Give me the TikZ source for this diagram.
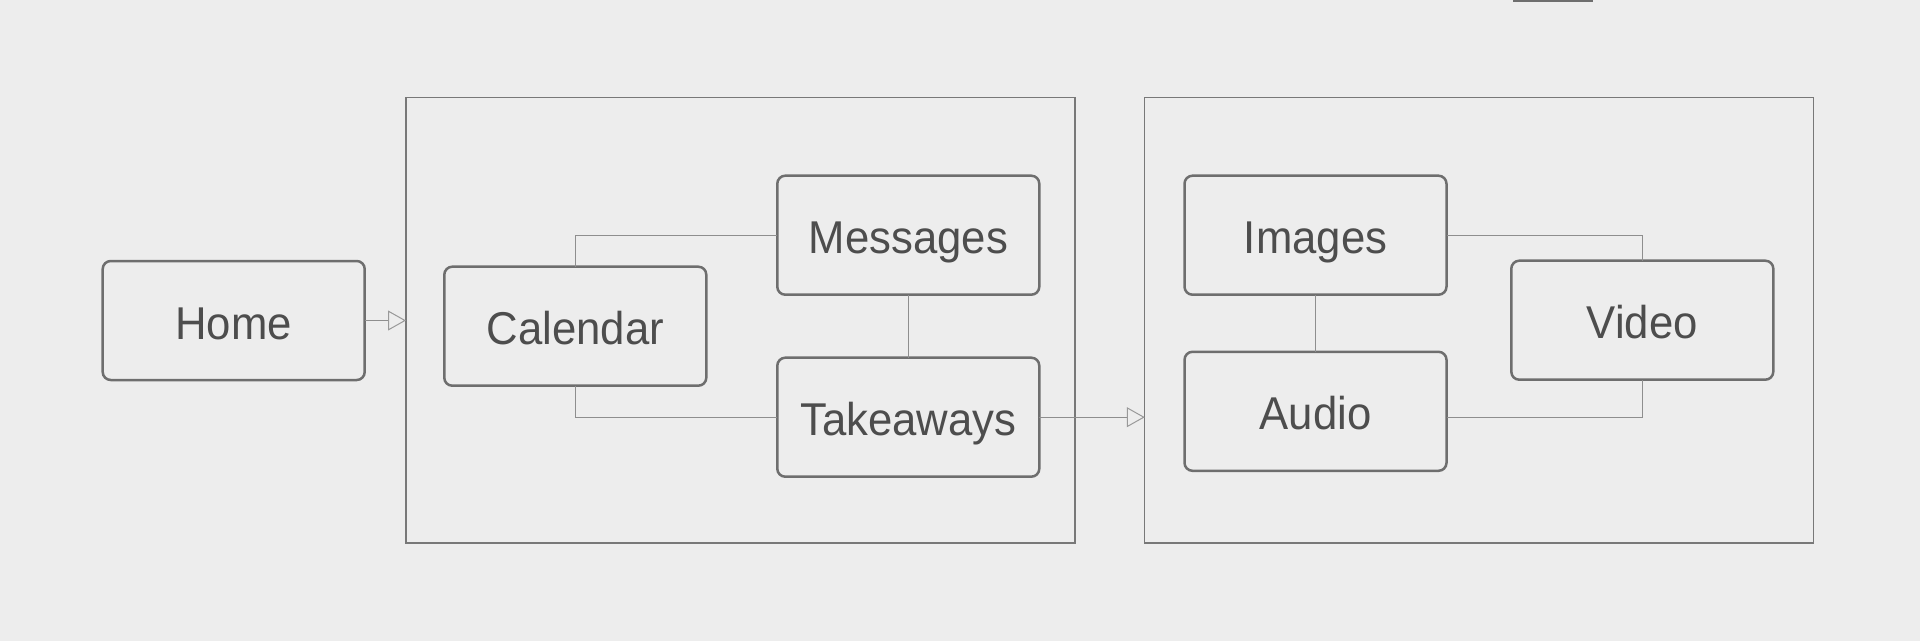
\documentclass[tikz,border=0pt]{standalone}
\usepackage{fontspec}
\setmainfont{Liberation Sans}[FakeStretch=0.95]
\usetikzlibrary{arrows.meta}
\definecolor{bg}{HTML}{EDEDED}
\definecolor{boxgray}{HTML}{6E6E6E}
\definecolor{contgray}{HTML}{787878}
\definecolor{conngray}{HTML}{8E8E8E}
\definecolor{tipgray}{HTML}{999999}
\definecolor{txt}{HTML}{4D4D4D}
\tikzset{
  screen/.style={draw=boxgray, line width=2.5pt, rounded corners=8pt,
    minimum width=262pt, minimum height=119pt, inner sep=0pt, outer sep=0pt,
    text=txt, font=\fontsize{46}{50}\selectfont, text height=37pt, text depth=0pt},
  container/.style={draw=contgray, line width=1.3pt, minimum width=669pt,
    minimum height=445.7pt, inner sep=0pt, outer sep=0pt},
  conn/.style={draw=conngray, line width=1pt},
  flow/.style={conn, -{Triangle[open, length=18pt, width=20pt, color=tipgray]}}
}
\begin{document}
\begin{tikzpicture}[x=1pt, y=-1pt]
\fill[bg] (0,0) rectangle (1920,641);
\useasboundingbox (0,0) rectangle (1920,641);
\fill[boxgray] (1513,0) rectangle (1593,1.5);
% containers
\node[container] (c1) at (740.5,320.2) {};
\node[container] (c2) at (1479.3,320.2) {};
% screens
\node[screen] (home) at (233.7,320.5) {Home};
\node[screen] (cal) at (575.3,326.2) {Calendar};
\node[screen] (msg) at (908.3,235.2) {Messages};
\node[screen] (tk) at (908.3,417.2) {Takeaways};
\node[screen] (img) at (1315.5,235.2) {Images};
\node[screen] (aud) at (1315.5,411.3) {Audio};
\node[screen] (vid) at (1642.3,320.2) {Video};
\coordinate (audout) at ([yshift=-6pt]aud.east);
% connectors
\draw[conn] (cal.north) |- (msg.west);
\draw[conn] (cal.south) |- (tk.west);
\draw[conn] (msg.south) -- (tk.north);
\draw[conn] (img.south) -- (aud.north);
\draw[conn] (img.east) -| (vid.north);
\draw[conn] (audout) -| (vid.south);
\draw[flow] (home.east) -- (home.east -| c1.west);
\draw[flow] (tk.east) -- (tk.east -| c2.west);
\end{tikzpicture}
\end{document}
